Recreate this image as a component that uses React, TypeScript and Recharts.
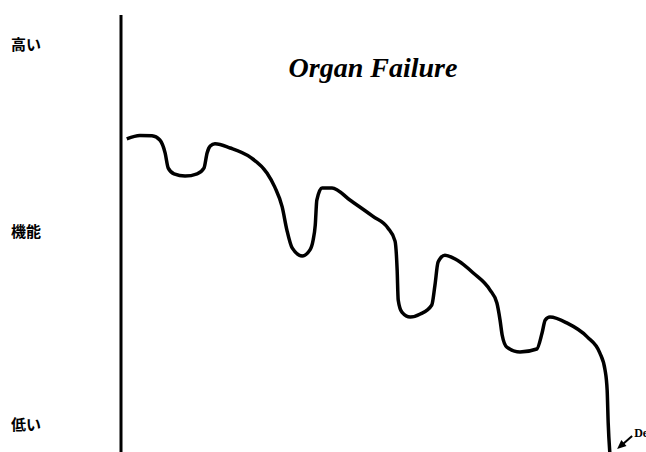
import React from 'react';
import { LineChart, Line, XAxis, YAxis, ReferenceDot, Customized } from 'recharts';

// Conceptual trajectory: time (arbitrary units) vs. level of function
const timeValues = [
  1.1, 3.6, 5.9, 7.4, 8.4, 9.0, 10.1, 12.2, 14.5, 15.8, 16.4, 17.0, 17.9, 20.8, 24.6, 27.8,
  29.3, 30.7, 31.6, 32.6, 34.5, 36.0, 36.6, 37.0, 37.3, 38.3, 40.2, 43.6, 48.0, 50.8, 52.2,
  52.6, 52.8, 53.5, 55.1, 57.0, 59.2, 59.8, 60.4, 61.7, 64.0, 67.1, 70.3, 71.6, 72.2, 72.6,
  73.5, 76.0, 79.2, 80.2, 80.8, 81.7, 85.0, 88.8, 91.2, 92.2, 92.6, 92.8, 93.1,
];
const functionValues = [
  75.4, 76.3, 76.2, 75.1, 71.7, 67.7, 66.2, 65.6, 66.2, 67.7, 71.7, 73.5, 74.1, 73.0, 70.6, 66.4,
  62.7, 57.5, 51.4, 46.7, 44.6, 46.2, 48.8, 52.7, 59.3, 62.5, 62.5, 59.3, 55.0, 52.0, 48.5,
  40.9, 33.0, 29.8, 28.5, 29.3, 31.7, 36.9, 43.0, 44.8, 43.5, 40.1, 35.6, 32.2, 27.7, 23.8,
  20.6, 19.3, 20.1, 24.3, 27.7, 28.5, 26.9, 23.3, 19.1, 14.6, 9.3, 0.6, -7.0,
];
const levelTicks = [100, 51, 0];
const levelLabels = ['高い', '機能', '低い'];
const titleText = 'Organ Failure';
const deathLabel = 'Death';
const deathTime = 94.5;
const deathValue = -6.2;

const data = timeValues.map((t, i) => ({ t, f: functionValues[i] }));

const LevelTick = (props: any) => {
  const { y, payload } = props;
  const idx = levelTicks.indexOf(payload.value);
  return (
    <text
      x={11}
      y={y}
      dy={5}
      textAnchor="start"
      fontFamily="'Noto Sans CJK JP', 'Noto Sans', sans-serif"
      fontWeight={700}
      fontSize={15}
      fill="#000"
    >
      {levelLabels[idx]}
    </text>
  );
};

const DeathMarker = (props: any) => {
  const { cx, cy } = props;
  return (
    <g>
      <line x1={cx + 5} y1={cy - 4.3} x2={cx + 15} y2={cy - 13} stroke="#000" strokeWidth={2} />
      <polygon
        points={`${cx},${cy} ${cx + 9.4},${cy - 2.9} ${cx + 4.2},${cy - 8.9}`}
        fill="#000"
      />
      <text
        x={cx + 17}
        y={cy - 12}
        fontFamily="'Liberation Serif', 'Times New Roman', serif"
        fontWeight={700}
        fontSize={12}
        fill="#000"
      >
        {deathLabel}
      </text>
    </g>
  );
};

const Title = () => (
  <text
    x={373}
    y={77}
    textAnchor="middle"
    fontFamily="'Liberation Serif', 'Times New Roman', serif"
    fontWeight={700}
    fontStyle="italic"
    fontSize={28}
    fill="#000"
  >
    {titleText}
  </text>
);

export default function App() {
  return (
    <div style={{ position: 'absolute', left: 0, top: 0, width: 646, height: 452, background: '#fff' }}>
      <LineChart width={646} height={452} data={data} margin={{ top: 15, right: 0, bottom: 0, left: 0 }}>
        <XAxis dataKey="t" type="number" domain={[0, 100]} hide />
        <YAxis
          type="number"
          domain={[-7, 108]}
          ticks={levelTicks}
          width={121}
          axisLine={{ stroke: '#000', strokeWidth: 3 }}
          tickLine={false}
          tick={<LevelTick />}
          interval={0}
        />
        <Line
          type="monotone"
          dataKey="f"
          stroke="#000"
          strokeWidth={3.5}
          dot={false}
          isAnimationActive={false}
        />
        <ReferenceDot x={deathTime} y={deathValue} shape={<DeathMarker />} ifOverflow="visible" />
        <Customized component={Title} />
      </LineChart>
    </div>
  );
}
